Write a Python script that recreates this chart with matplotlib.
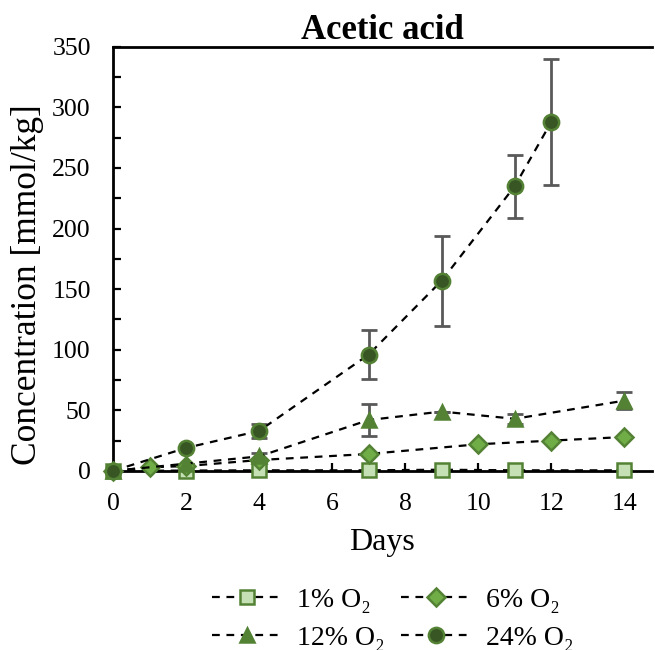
import matplotlib.pyplot as plt
from matplotlib.ticker import MultipleLocator

plt.rcParams['font.family'] = ['Liberation Serif', 'DejaVu Serif']

# 1% O2
days_1 = [0, 2, 4, 7, 9, 11, 14]
conc_1 = [0, 0.3, 0.5, 0.5, 1.0, 0.5, 0.5]
err_1 = [0, 0, 0, 0, 0, 0, 0]

# 6% O2
days_6 = [0, 1, 2, 4, 7, 10, 12, 14]
conc_6 = [0, 3, 4, 9, 14, 22, 25, 28]
err_6 = [0, 0, 0, 0, 0, 0, 0, 0]

# 12% O2
days_12 = [0, 2, 4, 7, 9, 11, 14]
conc_12 = [0, 6, 12, 42, 49, 43, 58]
err_12 = [0, 0, 3, 13, 0, 4, 7]

# 24% O2
days_24 = [0, 2, 4, 7, 9, 11, 12]
conc_24 = [0, 19, 33, 96, 157, 235, 288]
err_24 = [0, 0, 6, 20, 37, 26, 52]

series = [
    (days_1, conc_1, err_1, '1% O₂', 's', '#c5e0b4', '#548235', 10),
    (days_6, conc_6, err_6, '6% O₂', 'D', '#70ad47', '#548235', 9),
    (days_12, conc_12, err_12, '12% O₂', '^', '#548235', '#548235', 10),
    (days_24, conc_24, err_24, '24% O₂', 'o', '#375623', '#548235', 11),
]

fig = plt.figure(figsize=(6.55, 6.5), dpi=100)
ax = fig.add_axes([0.1725, 0.2755, 0.8225, 0.6525])

handles = []
for x, y, e, lab, mk, fc, ec, ms in series:
    ax.errorbar(x, y, yerr=e, fmt='none', ecolor='#595959', elinewidth=2,
                capsize=6, capthick=2, zorder=2)
    h, = ax.plot(x, y, linestyle=(0, (3.5, 3)), color='black', linewidth=1.6,
                 marker=mk, markersize=ms, markerfacecolor=fc, markeredgecolor=ec,
                 markeredgewidth=1.8, label=lab, zorder=3, clip_on=False)
    handles.append(h)

ax.set_xlim(0, 14.75)
ax.set_ylim(0, 350)
ax.xaxis.set_major_locator(MultipleLocator(2))
ax.yaxis.set_major_locator(MultipleLocator(50))
ax.yaxis.set_minor_locator(MultipleLocator(25))
ax.tick_params(axis='both', which='both', direction='in', labelsize=18.5,
               width=1.6, length=6)
ax.tick_params(axis='x', pad=16)
ax.tick_params(axis='y', pad=16)
ax.spines['right'].set_visible(False)
for s in ['left', 'bottom', 'top']:
    ax.spines[s].set_linewidth(2)

ax.set_title('Acetic acid', fontsize=25, fontweight='bold', pad=5)
ax.set_xlabel('Days', fontsize=23, labelpad=9)
ax.set_ylabel('Concentration [mmol/kg]', fontsize=25.5)
ax.yaxis.set_label_coords(-0.128, 0.439)

# row-wise order: 1%, 6% / 12%, 24%
order = [0, 2, 1, 3]
fig.legend([handles[i] for i in order], [handles[i].get_label() for i in order],
           loc='lower center', bbox_to_anchor=(0.6, -0.04), ncol=2,
           frameon=False, fontsize=20, handlelength=2.5, columnspacing=0.6,
           labelspacing=0.45, handletextpad=0.55)

fig.savefig('out.png', dpi=100)
